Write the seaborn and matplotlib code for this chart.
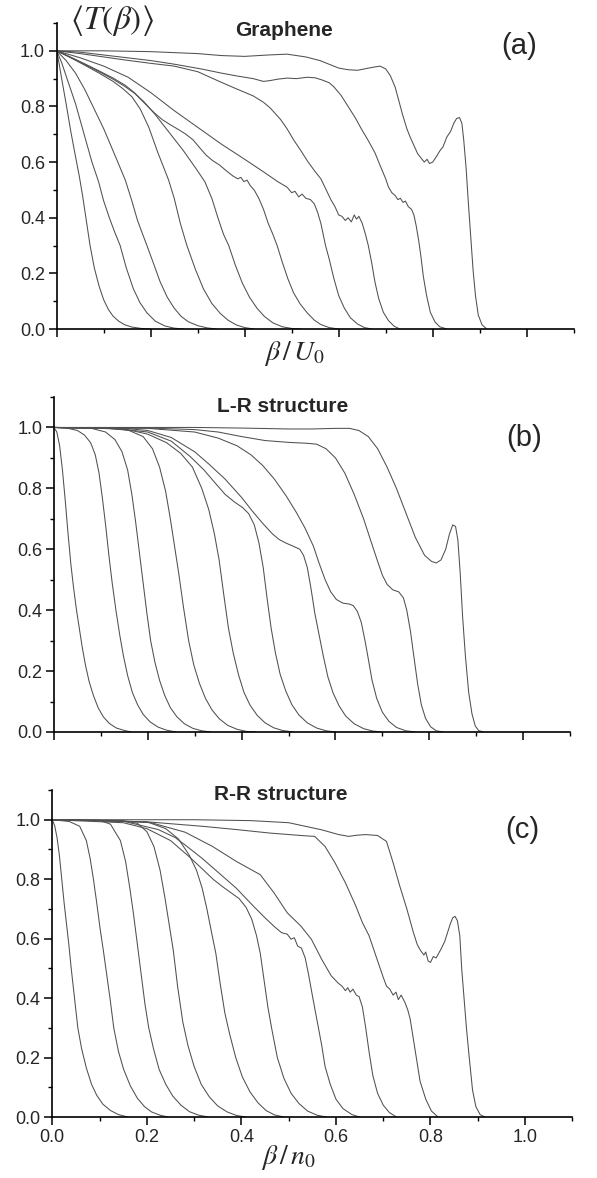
import matplotlib
matplotlib.use('Agg')
import matplotlib.pyplot as plt
from matplotlib.ticker import MultipleLocator, FormatStrFormatter
import pandas as pd
import seaborn as sns

# <T(beta)> curves, (beta, T) pairs

# (a) Graphene
g1 = [(0, 1.0), (0.005, 0.955), (0.01, 0.905), (0.02, 0.81), (0.03, 0.71), (0.04, 0.62), (0.048, 0.55),
      (0.055, 0.48), (0.063, 0.39), (0.071, 0.3), (0.08, 0.22), (0.09, 0.155), (0.1, 0.105), (0.11, 0.07),
      (0.12, 0.046), (0.132, 0.028), (0.145, 0.015), (0.16, 0.007), (0.18, 0.002), (0.2, 0)]
g2 = [(0, 1.0), (0.01, 0.96), (0.02, 0.91), (0.04, 0.81), (0.06, 0.69), (0.075, 0.6), (0.089, 0.53),
      (0.1, 0.46), (0.112, 0.4), (0.123, 0.35), (0.135, 0.3), (0.148, 0.22), (0.163, 0.145), (0.177, 0.095),
      (0.192, 0.058), (0.21, 0.028), (0.23, 0.011), (0.25, 0.003), (0.27, 0)]
g3 = [(0, 1.0), (0.02, 0.965), (0.04, 0.92), (0.06, 0.86), (0.08, 0.79), (0.1, 0.72), (0.115, 0.66),
      (0.13, 0.6), (0.146, 0.535), (0.16, 0.46), (0.172, 0.39), (0.183, 0.34), (0.192, 0.3), (0.205, 0.24),
      (0.22, 0.17), (0.235, 0.115), (0.25, 0.075), (0.265, 0.045), (0.28, 0.026), (0.3, 0.012),
      (0.32, 0.004), (0.34, 0)]
g4 = [(0, 1.0), (0.03, 0.975), (0.06, 0.948), (0.09, 0.92), (0.12, 0.89), (0.14, 0.865), (0.16, 0.835),
      (0.178, 0.79), (0.196, 0.725), (0.215, 0.635), (0.238, 0.536), (0.25, 0.47), (0.263, 0.38),
      (0.277, 0.3), (0.295, 0.215), (0.312, 0.145), (0.33, 0.092), (0.348, 0.056), (0.365, 0.031),
      (0.383, 0.014), (0.4, 0.005), (0.42, 0)]
g5 = [(0, 1.0), (0.03, 0.976), (0.06, 0.951), (0.09, 0.925), (0.12, 0.898), (0.145, 0.872), (0.165, 0.848),
      (0.185, 0.818), (0.21, 0.77), (0.24, 0.705), (0.27, 0.64), (0.295, 0.58), (0.315, 0.53), (0.33, 0.47),
      (0.343, 0.4), (0.355, 0.34), (0.366, 0.3), (0.38, 0.23), (0.395, 0.165), (0.41, 0.115),
      (0.426, 0.075), (0.442, 0.045), (0.46, 0.022), (0.48, 0.008), (0.5, 0.002), (0.52, 0)]
g6 = [(0, 1.0), (0.03, 0.977), (0.06, 0.953), (0.09, 0.928), (0.12, 0.902), (0.145, 0.877), (0.165, 0.85),
      (0.185, 0.815), (0.207, 0.778), (0.225, 0.752), (0.243, 0.733), (0.26, 0.716), (0.275, 0.7),
      (0.29, 0.68), (0.305, 0.65), (0.318, 0.625), (0.332, 0.605), (0.346, 0.59), (0.36, 0.57),
      (0.375, 0.55), (0.385, 0.54), (0.392, 0.545), (0.398, 0.53), (0.405, 0.535), (0.412, 0.515),
      (0.42, 0.5), (0.43, 0.47), (0.44, 0.43), (0.45, 0.38), (0.46, 0.34), (0.469, 0.3), (0.48, 0.24),
      (0.492, 0.18), (0.504, 0.13), (0.518, 0.09), (0.533, 0.058), (0.548, 0.032), (0.562, 0.016),
      (0.58, 0.005), (0.6, 0)]
g7 = [(0, 1.0), (0.05, 0.975), (0.1, 0.945), (0.152, 0.905), (0.2, 0.85), (0.25, 0.785), (0.3, 0.725),
      (0.35, 0.665), (0.4, 0.61), (0.44, 0.565), (0.47, 0.53), (0.49, 0.51), (0.5, 0.49), (0.507, 0.495),
      (0.515, 0.475), (0.522, 0.485), (0.53, 0.47), (0.54, 0.465), (0.548, 0.45), (0.555, 0.42),
      (0.562, 0.38), (0.567, 0.34), (0.572, 0.3), (0.58, 0.25), (0.59, 0.18), (0.6, 0.12), (0.612, 0.075),
      (0.625, 0.04), (0.64, 0.018), (0.655, 0.005), (0.67, 0)]
g8 = [(0, 1.0), (0.05, 0.99), (0.1, 0.978), (0.15, 0.966), (0.2, 0.955), (0.25, 0.945), (0.3, 0.925),
      (0.346, 0.89), (0.38, 0.865), (0.418, 0.838), (0.44, 0.815), (0.454, 0.795), (0.476, 0.754),
      (0.49, 0.72), (0.504, 0.68), (0.52, 0.64), (0.533, 0.605), (0.548, 0.57), (0.562, 0.54),
      (0.572, 0.505), (0.583, 0.466), (0.592, 0.44), (0.6, 0.41), (0.607, 0.405), (0.614, 0.39),
      (0.62, 0.4), (0.627, 0.385), (0.633, 0.41), (0.638, 0.395), (0.643, 0.405), (0.65, 0.38),
      (0.657, 0.34), (0.663, 0.3), (0.67, 0.24), (0.677, 0.17), (0.685, 0.11), (0.695, 0.06),
      (0.706, 0.03), (0.718, 0.01), (0.73, 0)]
g9 = [(0, 1.0), (0.05, 0.995), (0.1, 0.985), (0.15, 0.975), (0.2, 0.965), (0.25, 0.952), (0.31, 0.934),
      (0.35, 0.92), (0.382, 0.91), (0.418, 0.9), (0.44, 0.89), (0.454, 0.893), (0.47, 0.898), (0.49, 0.902),
      (0.51, 0.9), (0.533, 0.905), (0.55, 0.903), (0.565, 0.895), (0.58, 0.885), (0.59, 0.87),
      (0.605, 0.84), (0.62, 0.8), (0.635, 0.76), (0.648, 0.72), (0.662, 0.68), (0.677, 0.634),
      (0.69, 0.58), (0.7, 0.54), (0.706, 0.51), (0.713, 0.49), (0.72, 0.48), (0.726, 0.465),
      (0.731, 0.47), (0.737, 0.455), (0.742, 0.46), (0.748, 0.44), (0.755, 0.43), (0.76, 0.41),
      (0.765, 0.37), (0.77, 0.32), (0.775, 0.26), (0.78, 0.19), (0.787, 0.12), (0.795, 0.06),
      (0.805, 0.025), (0.815, 0.008), (0.83, 0)]
g10 = [(0, 1.0), (0.1, 1.0), (0.2, 0.997), (0.3, 0.99), (0.35, 0.983), (0.4, 0.98), (0.45, 0.985),
       (0.49, 0.988), (0.53, 0.978), (0.56, 0.965), (0.6, 0.938), (0.62, 0.932), (0.64, 0.93),
       (0.655, 0.935), (0.67, 0.94), (0.688, 0.945), (0.7, 0.935), (0.71, 0.91), (0.72, 0.87),
       (0.728, 0.82), (0.736, 0.77), (0.745, 0.72), (0.752, 0.69), (0.76, 0.66), (0.768, 0.63),
       (0.775, 0.615), (0.782, 0.6), (0.788, 0.61), (0.793, 0.595), (0.8, 0.6), (0.808, 0.62),
       (0.815, 0.64), (0.822, 0.655), (0.83, 0.69), (0.838, 0.71), (0.845, 0.74), (0.851, 0.757),
       (0.857, 0.76), (0.862, 0.74), (0.866, 0.68), (0.871, 0.58), (0.876, 0.45), (0.881, 0.33),
       (0.886, 0.21), (0.891, 0.12), (0.897, 0.05), (0.905, 0.015), (0.915, 0)]

# (b) L-R structure
b1 = [(0, 1.0), (0.006, 0.985), (0.012, 0.94), (0.018, 0.86), (0.024, 0.76), (0.03, 0.65), (0.036, 0.55),
      (0.042, 0.47), (0.048, 0.4), (0.054, 0.34), (0.06, 0.28), (0.067, 0.22), (0.075, 0.165),
      (0.084, 0.12), (0.094, 0.08), (0.105, 0.05), (0.118, 0.028), (0.133, 0.013), (0.15, 0.005),
      (0.165, 0)]
b2 = [(0, 1.0), (0.03, 0.997), (0.05, 0.99), (0.065, 0.975), (0.078, 0.95), (0.088, 0.91), (0.096, 0.85),
      (0.103, 0.77), (0.11, 0.68), (0.117, 0.58), (0.124, 0.49), (0.132, 0.4), (0.14, 0.32), (0.148, 0.25),
      (0.157, 0.185), (0.167, 0.13), (0.178, 0.09), (0.19, 0.058), (0.205, 0.033), (0.222, 0.016),
      (0.24, 0.006), (0.26, 0)]
b3 = [(0, 1.0), (0.08, 0.997), (0.11, 0.985), (0.13, 0.96), (0.145, 0.92), (0.157, 0.86), (0.166, 0.78),
      (0.174, 0.69), (0.182, 0.59), (0.19, 0.49), (0.198, 0.39), (0.206, 0.3), (0.215, 0.23),
      (0.225, 0.17), (0.236, 0.12), (0.248, 0.08), (0.262, 0.05), (0.278, 0.027), (0.296, 0.012),
      (0.315, 0.004), (0.335, 0)]
b4 = [(0, 1.0), (0.12, 0.997), (0.16, 0.99), (0.19, 0.97), (0.21, 0.93), (0.225, 0.87), (0.238, 0.79),
      (0.248, 0.7), (0.257, 0.61), (0.266, 0.52), (0.276, 0.41), (0.287, 0.3), (0.298, 0.22), (0.31, 0.16),
      (0.323, 0.11), (0.337, 0.072), (0.352, 0.044), (0.37, 0.022), (0.39, 0.009), (0.41, 0.002), (0.43, 0)]
b5 = [(0, 1.0), (0.15, 0.995), (0.2, 0.978), (0.24, 0.95), (0.27, 0.915), (0.295, 0.87), (0.315, 0.8),
      (0.33, 0.73), (0.342, 0.65), (0.352, 0.565), (0.362, 0.45), (0.372, 0.34), (0.382, 0.26),
      (0.393, 0.19), (0.405, 0.13), (0.418, 0.088), (0.433, 0.055), (0.45, 0.03), (0.468, 0.014),
      (0.487, 0.005), (0.51, 0)]
b6 = [(0, 1.0), (0.1, 0.998), (0.15, 0.993), (0.2, 0.985), (0.25, 0.955), (0.29, 0.905), (0.32, 0.86),
      (0.345, 0.815), (0.365, 0.78), (0.385, 0.755), (0.402, 0.737), (0.415, 0.717), (0.427, 0.68),
      (0.437, 0.62), (0.446, 0.54), (0.455, 0.43), (0.463, 0.34), (0.472, 0.26), (0.482, 0.19),
      (0.494, 0.135), (0.507, 0.09), (0.522, 0.056), (0.54, 0.03), (0.56, 0.013), (0.58, 0.004), (0.6, 0)]
b7 = [(0, 1.0), (0.15, 0.997), (0.2, 0.99), (0.25, 0.967), (0.3, 0.92), (0.33, 0.88), (0.365, 0.83),
      (0.4, 0.77), (0.423, 0.725), (0.445, 0.685), (0.466, 0.65), (0.48, 0.632), (0.495, 0.62),
      (0.51, 0.61), (0.524, 0.6), (0.532, 0.58), (0.54, 0.54), (0.548, 0.47), (0.556, 0.39), (0.565, 0.32),
      (0.574, 0.25), (0.584, 0.18), (0.595, 0.128), (0.608, 0.085), (0.622, 0.052), (0.64, 0.027),
      (0.66, 0.011), (0.68, 0.003), (0.7, 0)]
b8 = [(0, 1.0), (0.2, 0.997), (0.3, 0.985), (0.35, 0.965), (0.39, 0.94), (0.42, 0.91), (0.445, 0.875),
      (0.47, 0.83), (0.495, 0.775), (0.517, 0.72), (0.535, 0.67), (0.553, 0.61), (0.565, 0.555),
      (0.578, 0.5), (0.59, 0.46), (0.602, 0.435), (0.616, 0.423), (0.63, 0.42), (0.638, 0.415),
      (0.647, 0.395), (0.655, 0.36), (0.663, 0.3), (0.67, 0.24), (0.678, 0.17), (0.688, 0.11),
      (0.7, 0.065), (0.714, 0.035), (0.73, 0.015), (0.75, 0.004), (0.77, 0)]
b9 = [(0, 1.0), (0.2, 0.998), (0.3, 0.993), (0.35, 0.985), (0.4, 0.97), (0.45, 0.957), (0.5, 0.951),
      (0.54, 0.948), (0.56, 0.945), (0.58, 0.93), (0.6, 0.9), (0.62, 0.85), (0.64, 0.78), (0.66, 0.7),
      (0.677, 0.62), (0.69, 0.56), (0.7, 0.515), (0.71, 0.485), (0.722, 0.467), (0.735, 0.46),
      (0.745, 0.44), (0.752, 0.4), (0.76, 0.33), (0.767, 0.25), (0.775, 0.16), (0.783, 0.09),
      (0.792, 0.045), (0.803, 0.017), (0.815, 0.004), (0.83, 0)]
b10 = [(0, 1.0), (0.3, 1.0), (0.4, 0.998), (0.5, 0.995), (0.55, 0.995), (0.6, 0.997), (0.63, 0.997),
       (0.65, 0.99), (0.67, 0.97), (0.69, 0.93), (0.71, 0.87), (0.73, 0.8), (0.75, 0.72), (0.77, 0.64),
       (0.79, 0.58), (0.805, 0.56), (0.815, 0.555), (0.825, 0.565), (0.835, 0.6), (0.843, 0.65),
       (0.85, 0.68), (0.856, 0.675), (0.861, 0.63), (0.866, 0.52), (0.871, 0.38), (0.877, 0.25),
       (0.884, 0.13), (0.891, 0.06), (0.898, 0.02), (0.905, 0.005), (0.915, 0)]

# (c) R-R structure
r1 = [(0, 1.0), (0.005, 0.98), (0.01, 0.94), (0.015, 0.88), (0.02, 0.8), (0.025, 0.72), (0.03, 0.65),
      (0.035, 0.58), (0.04, 0.5), (0.047, 0.4), (0.054, 0.3), (0.062, 0.23), (0.072, 0.165), (0.083, 0.11),
      (0.094, 0.073), (0.107, 0.043), (0.123, 0.022), (0.14, 0.008), (0.16, 0)]
r2 = [(0, 1.0), (0.036, 0.994), (0.058, 0.978), (0.072, 0.93), (0.08, 0.87), (0.087, 0.8), (0.094, 0.72),
      (0.101, 0.635), (0.108, 0.56), (0.115, 0.48), (0.122, 0.4), (0.13, 0.3), (0.14, 0.22), (0.151, 0.16),
      (0.165, 0.105), (0.18, 0.063), (0.195, 0.035), (0.21, 0.017), (0.228, 0.006), (0.245, 0)]
r3 = [(0, 1.0), (0.1, 0.998), (0.123, 0.985), (0.144, 0.93), (0.155, 0.86), (0.164, 0.77), (0.172, 0.68),
      (0.18, 0.58), (0.188, 0.48), (0.196, 0.38), (0.204, 0.3), (0.214, 0.23), (0.226, 0.16), (0.24, 0.11),
      (0.255, 0.07), (0.272, 0.04), (0.29, 0.018), (0.31, 0.006), (0.33, 0)]
r4 = [(0, 1.0), (0.15, 0.997), (0.18, 0.988), (0.2, 0.96), (0.215, 0.91), (0.228, 0.83), (0.238, 0.74),
      (0.247, 0.65), (0.256, 0.56), (0.265, 0.44), (0.276, 0.32), (0.287, 0.24), (0.3, 0.17), (0.315, 0.11),
      (0.332, 0.068), (0.35, 0.037), (0.37, 0.017), (0.39, 0.005), (0.41, 0)]
r5 = [(0, 1.0), (0.2, 0.993), (0.24, 0.97), (0.267, 0.935), (0.29, 0.88), (0.305, 0.83), (0.317, 0.77),
      (0.327, 0.7), (0.337, 0.62), (0.346, 0.55), (0.355, 0.45), (0.365, 0.35), (0.375, 0.28),
      (0.388, 0.2), (0.402, 0.135), (0.418, 0.085), (0.435, 0.048), (0.452, 0.022), (0.47, 0.007), (0.49, 0)]
r6 = [(0, 1.0), (0.15, 0.99), (0.2, 0.97), (0.25, 0.93), (0.29, 0.875), (0.317, 0.835), (0.34, 0.8),
      (0.36, 0.775), (0.38, 0.752), (0.395, 0.735), (0.41, 0.705), (0.422, 0.665), (0.432, 0.61),
      (0.44, 0.55), (0.448, 0.46), (0.456, 0.37), (0.465, 0.29), (0.476, 0.2), (0.49, 0.13), (0.505, 0.08),
      (0.522, 0.045), (0.54, 0.02), (0.56, 0.006), (0.58, 0)]
r7 = [(0, 1.0), (0.15, 0.995), (0.224, 0.967), (0.26, 0.94), (0.281, 0.915), (0.317, 0.87), (0.353, 0.82),
      (0.389, 0.77), (0.425, 0.71), (0.45, 0.67), (0.47, 0.64), (0.485, 0.62), (0.497, 0.615),
      (0.505, 0.598), (0.512, 0.603), (0.519, 0.575), (0.527, 0.568), (0.535, 0.535), (0.542, 0.48),
      (0.55, 0.41), (0.557, 0.35), (0.563, 0.3), (0.57, 0.24), (0.577, 0.17), (0.588, 0.11), (0.6, 0.06),
      (0.615, 0.028), (0.634, 0.008), (0.65, 0)]
r8 = [(0, 1.0), (0.1, 0.998), (0.209, 0.99), (0.281, 0.958), (0.339, 0.91), (0.389, 0.86), (0.44, 0.815),
      (0.469, 0.754), (0.497, 0.687), (0.526, 0.642), (0.548, 0.598), (0.57, 0.53), (0.59, 0.475),
      (0.605, 0.45), (0.613, 0.44), (0.62, 0.425), (0.625, 0.435), (0.63, 0.42), (0.636, 0.43),
      (0.643, 0.41), (0.649, 0.405), (0.656, 0.37), (0.663, 0.3), (0.67, 0.22), (0.678, 0.14),
      (0.688, 0.08), (0.7, 0.04), (0.713, 0.015), (0.728, 0)]
r9 = [(0, 1.0), (0.2, 0.993), (0.317, 0.978), (0.389, 0.967), (0.461, 0.955), (0.534, 0.946),
      (0.555, 0.944), (0.577, 0.91), (0.598, 0.855), (0.62, 0.788), (0.642, 0.71), (0.656, 0.654),
      (0.67, 0.61), (0.685, 0.54), (0.7, 0.47), (0.707, 0.44), (0.714, 0.43), (0.721, 0.41), (0.727, 0.42),
      (0.732, 0.395), (0.738, 0.41), (0.746, 0.385), (0.752, 0.36), (0.757, 0.33), (0.763, 0.27),
      (0.77, 0.2), (0.778, 0.12), (0.79, 0.06), (0.802, 0.02), (0.816, 0)]
r10 = [(0, 1.0), (0.3, 1.0), (0.42, 0.997), (0.5, 0.99), (0.57, 0.966), (0.606, 0.95), (0.627, 0.944),
       (0.645, 0.948), (0.663, 0.95), (0.688, 0.947), (0.707, 0.927), (0.721, 0.855), (0.735, 0.777),
       (0.75, 0.7), (0.764, 0.62), (0.772, 0.58), (0.779, 0.56), (0.786, 0.545), (0.79, 0.555),
       (0.795, 0.525), (0.8, 0.52), (0.806, 0.54), (0.812, 0.535), (0.822, 0.564), (0.83, 0.59),
       (0.836, 0.62), (0.842, 0.65), (0.847, 0.67), (0.852, 0.675), (0.857, 0.66), (0.862, 0.61),
       (0.866, 0.5), (0.87, 0.42), (0.876, 0.3), (0.882, 0.2), (0.889, 0.09), (0.896, 0.035),
       (0.905, 0.008), (0.915, 0)]

graphene = [g1, g2, g3, g4, g5, g6, g7, g8, g9, g10]
lr_structure = [b1, b2, b3, b4, b5, b6, b7, b8, b9, b10]
rr_structure = [r1, r2, r3, r4, r5, r6, r7, r8, r9, r10]

titles = ['Graphene', 'L-R structure', 'R-R structure']
tags = ['(a)', '(b)', '(c)']


def to_frame(curves):
    rows = []
    for i, c in enumerate(curves):
        for b, t in c:
            rows.append((i, b, t))
    return pd.DataFrame(rows, columns=['curve', 'beta', 'T'])


sns.set_style('ticks')
plt.rcParams['font.family'] = ['Liberation Sans', 'DejaVu Sans']
plt.rcParams['mathtext.fontset'] = 'stix'

W, H = 597, 1178
fig = plt.figure(figsize=(W / 100, H / 100), dpi=100)

# axes boxes in pixels: (x0, y_of_zero, width, height)
boxes = [(56.7, 329, 517, 306), (54, 732, 516, 335), (52.3, 1117, 520, 327)]
title_pos = [(284, 31), (283, 406), (281, 794)]
tag_pos = [(519, 46), (524, 438), (522, 830)]

for k, curves in enumerate([graphene, lr_structure, rr_structure]):
    x0, y0, w, h = boxes[k]
    ax = fig.add_axes([x0 / W, 1 - y0 / H, w / W, h / H])
    df = to_frame(curves)
    sns.lineplot(data=df, x='beta', y='T', units='curve', estimator=None, sort=False,
                 color='#505050', linewidth=0.75, ax=ax, legend=False)
    ax.set_xlim(0, 1.1)
    ax.set_ylim(0, 1.1)
    ax.set_xlabel('')
    ax.set_ylabel('')
    ax.xaxis.set_major_locator(MultipleLocator(0.2))
    ax.xaxis.set_minor_locator(MultipleLocator(0.1))
    ax.yaxis.set_major_locator(MultipleLocator(0.2))
    ax.yaxis.set_minor_locator(MultipleLocator(0.1))
    ax.xaxis.set_major_formatter(FormatStrFormatter('%.1f'))
    ax.yaxis.set_major_formatter(FormatStrFormatter('%.1f'))
    sns.despine(ax=ax)
    for s in ['left', 'bottom']:
        ax.spines[s].set_linewidth(1.2)
        ax.spines[s].set_color('black')
    ax.tick_params(which='major', direction='out', length=5.5, width=1.1, labelsize=13,
                   pad=3, color='black')
    ax.tick_params(which='minor', direction='out', length=3, width=1.0, color='black')
    if k < 2:
        ax.tick_params(axis='x', labelbottom=False)
    ax.set_facecolor('white')

    fig.text(title_pos[k][0] / W, 1 - title_pos[k][1] / H, titles[k], ha='center', va='center',
             fontsize=15, fontweight='bold')
    fig.text(tag_pos[k][0] / W, 1 - tag_pos[k][1] / H, tags[k], ha='center', va='center', fontsize=21)

fig.text(112 / W, 1 - 20 / H, r'$\left\langle T(\beta)\right\rangle$', ha='center', va='center', fontsize=24)
fig.text(294 / W, 1 - 353 / H, r'$\beta\,/\,U_0$', ha='center', va='center', fontsize=20)
fig.text(288 / W, 1 - 1158 / H, r'$\beta\,/\,n_0$', ha='center', va='center', fontsize=20)

fig.savefig('out.png', dpi=100, facecolor='white')
